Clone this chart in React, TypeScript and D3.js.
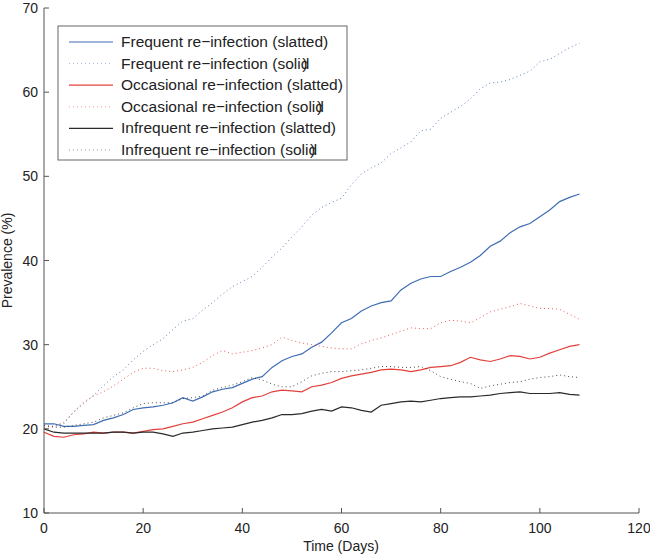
import React from "react";
import * as d3 from "d3";

const days = d3.range(0, 110, 2);

const freqSlatted = [20.6,20.6,20.3,20.3,20.4,20.5,21.0,21.3,21.7,22.3,22.5,22.6,22.8,23.1,23.7,23.3,23.8,24.4,24.7,24.9,25.4,25.9,26.2,27.3,28.1,28.6,28.9,29.7,30.3,31.4,32.6,33.1,34.0,34.6,35.0,35.2,36.5,37.3,37.8,38.1,38.1,38.7,39.2,39.8,40.6,41.7,42.3,43.3,44.0,44.4,45.2,46.0,47.0,47.5,47.9];
const freqSolid = [20.4,20.3,20.6,22.0,23.0,24.0,25.1,26.2,27.0,28.2,29.2,30.0,30.7,31.8,32.8,33.1,34.1,35.0,36.0,36.9,37.5,38.1,39.2,40.4,41.5,42.8,44.0,45.4,46.3,46.9,47.4,49.0,50.3,51.0,51.6,52.7,53.4,54.1,55.4,55.6,56.9,57.6,58.3,59.2,60.4,61.1,61.2,61.5,62.0,62.5,63.6,63.9,64.6,65.3,65.8];
const occSlatted = [19.6,19.1,19.0,19.3,19.4,19.6,19.5,19.6,19.6,19.5,19.7,19.9,20.0,20.3,20.6,20.8,21.2,21.6,22.0,22.5,23.2,23.7,23.9,24.4,24.6,24.5,24.4,25.0,25.2,25.5,26.0,26.3,26.5,26.7,27.0,27.1,27.0,26.8,27.0,27.3,27.4,27.5,27.9,28.5,28.2,28.0,28.3,28.7,28.6,28.3,28.5,29.0,29.4,29.8,30.0];
const occSolid = [20.2,20.3,20.8,22.0,23.2,23.9,24.4,25.1,25.9,26.7,27.2,27.2,26.9,26.8,27.0,27.3,27.9,28.7,29.3,28.9,29.1,29.3,29.6,30.0,30.9,30.5,30.2,30.0,29.8,29.6,29.5,29.5,30.1,30.5,30.8,31.2,31.6,32.0,31.9,31.9,32.6,32.9,32.8,32.6,33.2,33.9,34.2,34.5,34.9,34.6,34.3,34.3,34.2,33.6,33.0];
const infSlatted = [20.0,19.6,19.5,19.5,19.5,19.5,19.5,19.6,19.6,19.5,19.6,19.6,19.4,19.1,19.5,19.6,19.8,20.0,20.1,20.2,20.5,20.8,21.0,21.3,21.7,21.7,21.8,22.1,22.3,22.1,22.6,22.5,22.2,22.0,22.8,23.0,23.2,23.3,23.2,23.4,23.6,23.7,23.8,23.8,23.9,24.0,24.2,24.3,24.4,24.2,24.2,24.2,24.3,24.1,24.0];
const infSolid = [20.4,20.2,20.2,20.4,20.6,20.8,21.3,21.6,21.9,22.5,23.0,23.1,23.1,23.1,23.6,23.7,23.9,24.6,24.9,25.2,25.6,26.1,25.8,25.3,25.0,25.0,25.6,26.3,26.6,26.8,26.8,26.9,27.0,27.2,27.4,27.4,27.3,27.3,27.4,26.9,26.2,25.9,25.6,25.4,24.8,25.1,25.3,25.5,25.6,25.9,26.1,26.2,26.4,26.2,26.1];

const seriesNames = [
  "Frequent re\u2212infection (slatted)",
  "Frequent re\u2212infection (soli",
  "Occasional re\u2212infection (slatted)",
  "Occasional re\u2212infection (soli",
  "Infrequent re\u2212infection (slatted)",
  "Infrequent re\u2212infection (soli",
];
const seriesValues = [freqSlatted, freqSolid, occSlatted, occSolid, infSlatted, infSolid];
const seriesColors = ["#3f6db3", "#3f6db3", "#e2403c", "#e2403c", "#2a2a2a", "#2a2a2a"];
const seriesDotted = [false, true, false, true, false, true];

const xTicks = [0, 20, 40, 60, 80, 100, 120];
const yTicks = [10, 20, 30, 40, 50, 60, 70];

const FONT = "'Liberation Sans', Arial, Helvetica, sans-serif";

export default function App() {
  const x = d3.scaleLinear().domain([0, 120]).range([44, 639]);
  const y = d3.scaleLinear().domain([10, 70]).range([513, 8]);
  const line = d3
    .line<number>()
    .x((_, i) => x(days[i]))
    .y((d) => y(d));

  const axisColor = "#555";
  const legX = 58, legY = 26, legW = 289, legH = 134;
  const rowH = 21.6;

  return (
    <svg width={650} height={555} style={{ position: "absolute", left: 0, top: 0, background: "#fff" }} fontFamily={FONT}>
      <rect x={0} y={0} width={650} height={555} fill="#fff" />
      {seriesValues.map((vals, i) => (
        <path
          key={i}
          d={line(vals) || ""}
          fill="none"
          stroke={seriesColors[i]}
          strokeWidth={seriesDotted[i] ? 1 : 1.2}
          strokeDasharray={seriesDotted[i] ? "1,3" : undefined}
          opacity={seriesDotted[i] ? 0.85 : 1}
        />
      ))}
      {/* axes */}
      <line x1={x(0)} x2={x(120)} y1={y(10)} y2={y(10)} stroke={axisColor} strokeWidth={1} />
      <line x1={x(0)} x2={x(0)} y1={y(10)} y2={y(70)} stroke={axisColor} strokeWidth={1} />
      {xTicks.map((t) => (
        <g key={"x" + t}>
          <line x1={x(t)} x2={x(t)} y1={y(10)} y2={y(10) - 5} stroke={axisColor} />
          <text x={x(t)} y={533} textAnchor="middle" fontSize={14} fill="#222">{t}</text>
        </g>
      ))}
      {yTicks.map((t) => (
        <g key={"y" + t}>
          <line x1={x(0)} x2={x(0) + 5} y1={y(t)} y2={y(t)} stroke={axisColor} />
          <text x={38} y={y(t) + 5} textAnchor="end" fontSize={14} fill="#222">{t}</text>
        </g>
      ))}
      <text x={341} y={551} textAnchor="middle" fontSize={14} fill="#222">Time (Days)</text>
      <text transform={`translate(12, ${(y(10) + y(70)) / 2}) rotate(-90)`} textAnchor="middle" fontSize={14} fill="#222">Prevalence (%)</text>
      {/* legend */}
      <rect x={legX} y={legY} width={legW} height={legH} fill="#fff" stroke="#666" strokeWidth={1} />
      {seriesNames.map((name, i) => {
        const cy = legY + 16 + i * rowH;
        return (
          <g key={"l" + i}>
            <line
              x1={69}
              x2={113}
              y1={cy}
              y2={cy}
              stroke={seriesColors[i]}
              strokeWidth={seriesDotted[i] ? 1 : 1.2}
              strokeDasharray={seriesDotted[i] ? "1,3" : undefined}
              opacity={seriesDotted[i] ? 0.5 : 1}
            />
            <text x={121} y={cy + 5} fontSize={15.5} fill="#222">
              {name}
              {seriesDotted[i] ? (
                <>
                  <tspan>d</tspan>
                  <tspan dx={-7}>)</tspan>
                </>
              ) : null}
            </text>
          </g>
        );
      })}
    </svg>
  );
}
